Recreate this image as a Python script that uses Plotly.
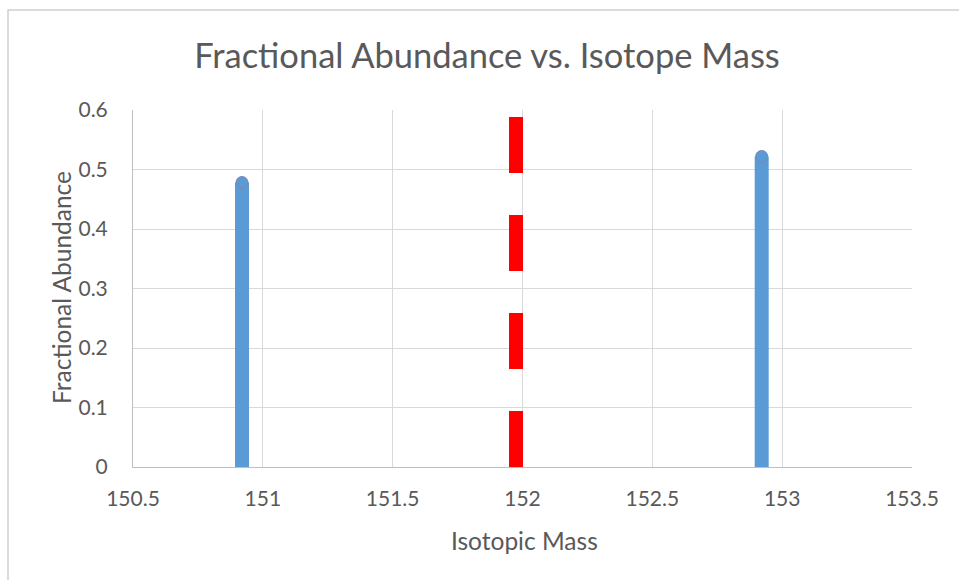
import plotly.graph_objects as go

# Europium isotopes: mass (u) and fractional abundance
isotope_masses = [150.9198, 152.9212]
fractional_abundances = [0.4781, 0.5219]
# Average atomic mass marker
average_mass = 151.975
average_line_y = [0, 0.6]

x_ticks = [150.5, 151, 151.5, 152, 152.5, 153, 153.5]
x_tick_labels = ["150.5", "151", "151.5", "152", "152.5", "153", "153.5"]
y_ticks = [0, 0.1, 0.2, 0.3, 0.4, 0.5, 0.6]
y_tick_labels = ["0", "0.1", "0.2", "0.3", "0.4", "0.5", "0.6"]

BLUE = "#5B9BD5"
RED = "#FF0000"
TEXT = "#595959"
GRID = "#D9D9D9"
FONT = "Lato"

fig = go.Figure()

# One vertical stick per isotope, from zero up to its abundance
for m, a in zip(isotope_masses, fractional_abundances):
    fig.add_trace(go.Scatter(
        x=[m, m], y=[0, a], mode="lines",
        line=dict(color=BLUE, width=14),
        showlegend=False, hoverinfo="skip",
    ))
    fig.add_trace(go.Scatter(
        x=[m], y=[a], mode="markers",
        marker=dict(color=BLUE, size=12, line=dict(color="#7d85b5", width=1)),
        showlegend=False, hoverinfo="skip",
    ))

# Dashed red line at the average atomic mass
fig.add_trace(go.Scatter(
    x=[average_mass, average_mass], y=average_line_y, mode="lines",
    line=dict(color=RED, width=14, dash="56px,42px"),
    showlegend=False, hoverinfo="skip",
))

L, R, T, B = 133, 47, 110, 113
PW = 959 - L - R
PH = 580 - T - B

fig.update_layout(
    width=959, height=580,
    margin=dict(l=L, r=R, t=T, b=B),
    paper_bgcolor="white", plot_bgcolor="white",
    font=dict(family=FONT, color=TEXT),
    title=dict(
        text="Fractional Abundance vs. Isotope Mass",
        x=487 / 959, xref="container", xanchor="center",
        y=1 - 56 / 580, yref="container", yanchor="middle",
        font=dict(size=34.5, color=TEXT, family=FONT),
    ),
    xaxis=dict(
        range=[150.5, 153.5],
        tickvals=x_ticks, ticktext=x_tick_labels,
        showgrid=True, gridcolor=GRID, gridwidth=1,
        showline=True, linecolor="#BFBFBF", linewidth=1,
        zeroline=False, ticks="", ticklabelstandoff=13,
        tickfont=dict(size=21, color=TEXT),
    ),
    yaxis=dict(
        range=[0, 0.6],
        tickvals=y_ticks, ticktext=y_tick_labels,
        showgrid=True, gridcolor=GRID, gridwidth=1,
        showline=True, linecolor="#BFBFBF", linewidth=1,
        zeroline=False, ticks="", ticklabelstandoff=20,
        tickfont=dict(size=21, color=TEXT),
    ),
    annotations=[
        dict(text="Isotopic Mass", xref="paper", yref="paper",
             x=(524 - L) / PW, y=(580 - B - 540) / PH,
             xanchor="center", yanchor="middle", showarrow=False,
             font=dict(size=24.5, color=TEXT)),
        dict(text="Fractional Abundance", xref="paper", yref="paper",
             x=(61 - L) / PW, y=(580 - B - 288) / PH, textangle=-90,
             xanchor="center", yanchor="middle", showarrow=False,
             font=dict(size=24.5, color=TEXT)),
    ],
    shapes=[
        # chart-area frame
        dict(type="rect", xref="paper", yref="paper", layer="below",
             x0=(8 - L) / PW, x1=(975 - L) / PW,
             y0=(467 - 600) / PH, y1=(467 - 10) / PH,
             line=dict(color="#D0D0D0", width=1.5)),
    ],
)

fig.write_html("out.html")
